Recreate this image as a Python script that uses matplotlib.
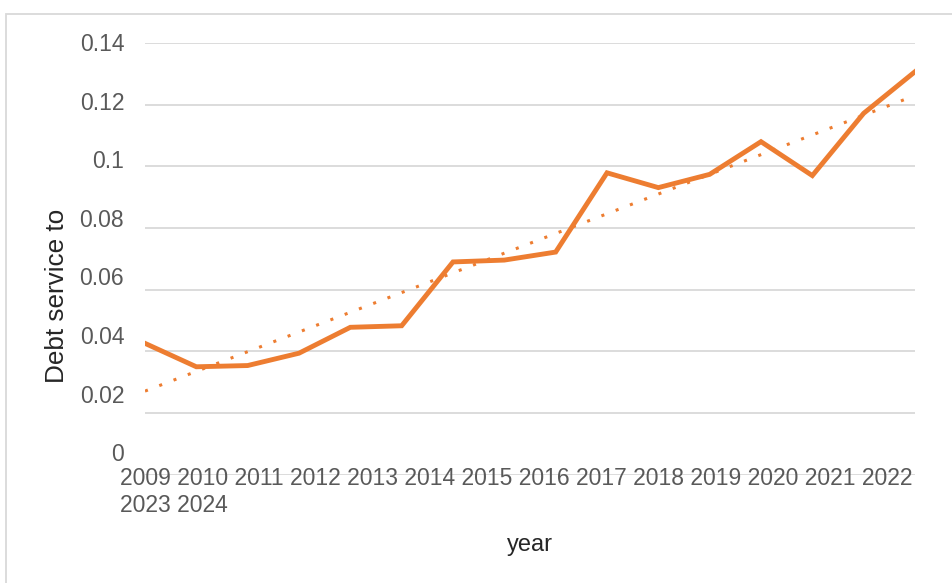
import numpy as np
import matplotlib
matplotlib.use("Agg")
import matplotlib.pyplot as plt
from matplotlib.patches import Rectangle
import matplotlib.transforms as mtransforms

# ---- data ----
years = [str(y) for y in range(2009, 2025)]
debt_service = [0.0426, 0.0350, 0.0354, 0.0394, 0.0478, 0.0483, 0.0690, 0.0696,
                0.0722, 0.0979, 0.0931, 0.0974, 0.1080, 0.0970, 0.1172, 0.1307]
y_ticks = [0, 0.02, 0.04, 0.06, 0.08, 0.1, 0.12, 0.14]
y_tick_labels = ["0", "0.02", "0.04", "0.06", "0.08", "0.1", "0.12", "0.14"]
x_title = "year"
y_title = "Debt service to"

ORANGE = "#ED7D31"
GRID = "#D9D9D9"
TICK_C = "#595959"
TITLE_C = "#262626"
FONT = ["Liberation Sans", "DejaVu Sans"]
plt.rcParams["font.family"] = FONT

W, H = 952, 583
fig = plt.figure(figsize=(W / 100, H / 100), dpi=100)
fig.patch.set_facecolor("white")

# chart border
fig.patches.append(Rectangle((6 / W, -0.05), 1.2, 1 - 14 / H + 0.05,
                             transform=fig.transFigure, fill=False,
                             edgecolor=GRID, linewidth=1.3))

left, right = 145 / W, 915 / W
bottom, top = 1 - 474.7 / H, 1 - 43 / H
ax = fig.add_axes([left, bottom, right - left, top - bottom])

x = np.arange(len(years))
y = np.array(debt_service)
ax.plot(x, y, color=ORANGE, linewidth=3.5, solid_joinstyle="miter", zorder=3)

# linear trendline (as Excel computes from the series)
coef = np.polyfit(x, y, 1)
ax.plot(x, np.polyval(coef, x), color=ORANGE, linewidth=2.2,
        linestyle=(0, (1, 4)), dash_capstyle="butt", zorder=2)

ax.set_xlim(x[0], x[-1])
ax.set_ylim(0, 0.14)
ax.set_yticks(y_ticks)
ax.set_yticklabels(y_tick_labels)
ax.yaxis.grid(True, color=GRID, linewidth=1.3)
ax.set_axisbelow(True)
for s in ax.spines.values():
    s.set_visible(False)
ax.tick_params(axis="y", length=0, pad=15, labelsize=16.5, labelcolor=TICK_C)
ax.set_xticks([])

# y tick labels sit progressively above their gridlines, as in the reference
for lab, v in zip(ax.get_yticklabels(), y_ticks):
    i = (0.14 - v) / 0.02
    off_px = 1 + 3.07 * i
    lab.set_transform(lab.get_transform() +
                      mtransforms.ScaledTranslation(0, off_px / 100, fig.dpi_scale_trans))

# category labels flowing as text (wrapped like the reference)
cat_text = " ".join(years[:14]) + "\n" + " ".join(years[14:])
fig.text(120 / W, 1 - 467 / H, cat_text, ha="left", va="top", fontsize=16.5,
         color=TICK_C, linespacing=1.2)

fig.text(530 / W, 1 - 545 / H, x_title, ha="center", va="center",
         fontsize=17, color=TITLE_C)
fig.text(57 / W, 1 - 295.5 / H, y_title, ha="center", va="center", rotation=90,
         fontsize=18.8, color=TITLE_C)

fig.savefig("out.png", dpi=100, facecolor="white")
